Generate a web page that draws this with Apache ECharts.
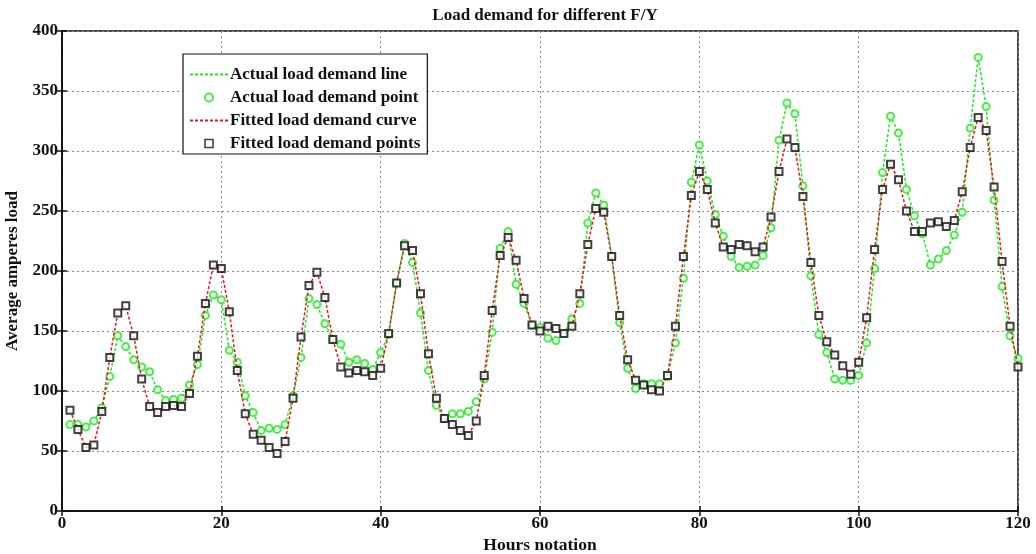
<!DOCTYPE html>
<html>
<head>
<meta charset="utf-8">
<script src="https://cdn.jsdelivr.net/npm/echarts@6/dist/echarts.min.js"></script>
<style>html,body{margin:0;padding:0;background:#fff}#c{width:1036px;height:554px}</style>
</head>
<body>
<div id="c"></div>
<script>
const hours = [1,2,3,4,5,6,7,8,9,10,11,12,13,14,15,16,17,18,19,20,21,22,23,24,25,26,27,28,29,30,31,32,33,34,35,36,37,38,39,40,41,42,43,44,45,46,47,48,49,50,51,52,53,54,55,56,57,58,59,60,61,62,63,64,65,66,67,68,69,70,71,72,73,74,75,76,77,78,79,80,81,82,83,84,85,86,87,88,89,90,91,92,93,94,95,96,97,98,99,100,101,102,103,104,105,106,107,108,109,110,111,112,113,114,115,116,117,118,119,120];
const actualLoad = [72,72,70,75,86,112,146,137,126,120,116,101,92,93,94,105,122,163,180,176,134,124,96,82,67,69,68,72,96,128,177,172,156,143,139,124,126,123,118,132,147,190,223,207,165,117,88,77,81,81,83,91,110,149,219,233,189,173,155,153,144,142,148,160,173,240,265,255,212,157,119,102,106,106,106,112,140,194,274,305,275,247,229,212,203,204,205,213,236,309,340,331,271,196,147,132,110,109,109,113,140,202,282,329,315,268,246,231,205,210,217,230,249,319,378,337,259,187,146,127];
const fittedLoad = [84,68,53,55,83,128,165,171,146,110,87,82,87,88,87,98,129,173,205,202,166,117,81,64,59,53,48,58,94,145,188,199,178,143,120,115,117,116,113,119,148,190,221,217,181,131,94,77,72,67,63,75,113,167,213,228,209,177,155,150,154,152,148,154,181,222,252,249,212,163,126,109,105,101,100,113,154,212,263,283,268,240,220,218,222,221,216,220,245,283,310,303,262,207,163,141,130,121,114,124,161,218,268,289,276,250,233,233,240,241,237,242,266,303,328,317,270,208,154,120];
const xTicks = [0,20,40,60,80,100,120];
const yTicks = [0,50,100,150,200,250,300,350,400];
const seriesNames = ['Actual load demand line','Actual load demand point','Fitted load demand curve','Fitted load demand points'];
const titleText = 'Load demand for different F/Y';
const xName = 'Hours notation';
const yName = 'Average amperes load';

const pair = arr => hours.map((h,i)=>[h,arr[i]]);
const FONT = '"Liberation Serif","DejaVu Serif",serif';
const GREEN = '#22e622';
const RED = '#e8141e';

const gridLine = {show:true, lineStyle:{color:'#8a8a8a', type:[2,3], width:1}};
const baseX = {type:'value', min:xTicks[0], max:xTicks[xTicks.length-1], interval:20};
const baseY = {type:'value', min:yTicks[0], max:yTicks[yTicks.length-1], interval:50};
const tickStyle = {show:true, inside:true, length:5, lineStyle:{color:'#111', width:1.5}};
const lineAx = {show:true, lineStyle:{color:'#111', width:1.5}};
const labelStyle = {fontFamily:FONT, fontWeight:'bold', fontSize:17, color:'#111'};

const chart = echarts.init(document.getElementById('c'), null, {renderer:'canvas'});
chart.setOption({
  animation:false,
  backgroundColor:'#fff',
  title:{text:titleText, left:540, top:2, textAlign:'center',
    textStyle:{fontFamily:FONT, fontWeight:'bold', fontSize:17, color:'#111'}},
  grid:{left:62, right:18, top:31, bottom:43, containLabel:false, outerBoundsMode:'none',
    show:true, borderColor:'#111', borderWidth:1.5, backgroundColor:'#fff'},
  legend:{
    orient:'vertical', left:183, top:54,
    backgroundColor:'#fff', borderColor:'#111', borderWidth:1.2,
    padding:[12,7,2,6], itemGap:6, itemWidth:38, itemHeight:8,
    textStyle:{fontFamily:FONT, fontWeight:'bold', fontSize:17, color:'#111', padding:[0,0,0,-3]},
    data:[
      {name:seriesNames[0], itemStyle:{opacity:0}},
      {name:seriesNames[1]},
      {name:seriesNames[2], itemStyle:{opacity:0}},
      {name:seriesNames[3], icon:'path://M0,0H10V10H0Z', itemStyle:{color:'#fff', borderColor:'#111', borderWidth:1.6}}
    ]
  },
  xAxis:[
    Object.assign({}, baseX, {position:'bottom', name:xName, nameLocation:'middle', nameGap:24,
      nameTextStyle:Object.assign({}, labelStyle, {fontSize:17.5}),
      axisLine:lineAx, axisTick:tickStyle,
      axisLabel:Object.assign({}, labelStyle, {margin:4}),
      splitLine:gridLine}),
    Object.assign({}, baseX, {position:'top', axisLine:lineAx, axisTick:tickStyle,
      axisLabel:{show:false}, splitLine:{show:false}})
  ],
  yAxis:[
    Object.assign({}, baseY, {position:'left', name:yName, nameLocation:'middle', nameGap:31,
      nameTextStyle:labelStyle,
      axisLine:lineAx, axisTick:tickStyle,
      axisLabel:Object.assign({}, labelStyle, {margin:4}),
      splitLine:gridLine}),
    Object.assign({}, baseY, {position:'right', axisLine:lineAx, axisTick:tickStyle,
      axisLabel:{show:false}, splitLine:{show:false}})
  ],
  series:[
    {name:seriesNames[0], type:'line', data:pair(actualLoad), symbol:'none',
      itemStyle:{color:GREEN}, lineStyle:{color:GREEN, width:1.5, type:[3,2]}, z:2},
    {name:seriesNames[1], type:'scatter', data:pair(actualLoad), symbol:'emptyCircle', symbolSize:7,
      itemStyle:{color:GREEN, borderColor:GREEN, borderWidth:1.8}, z:3},
    {name:seriesNames[2], type:'line', data:pair(fittedLoad), symbol:'none',
      itemStyle:{color:RED}, lineStyle:{color:RED, width:1.5, type:[3,2]}, z:4},
    {name:seriesNames[3], type:'scatter', data:pair(fittedLoad), symbol:'emptyRect', symbolSize:7,
      itemStyle:{color:'#111', borderColor:'#111', borderWidth:1.6}, z:5}
  ]
});
</script>
</body>
</html>
